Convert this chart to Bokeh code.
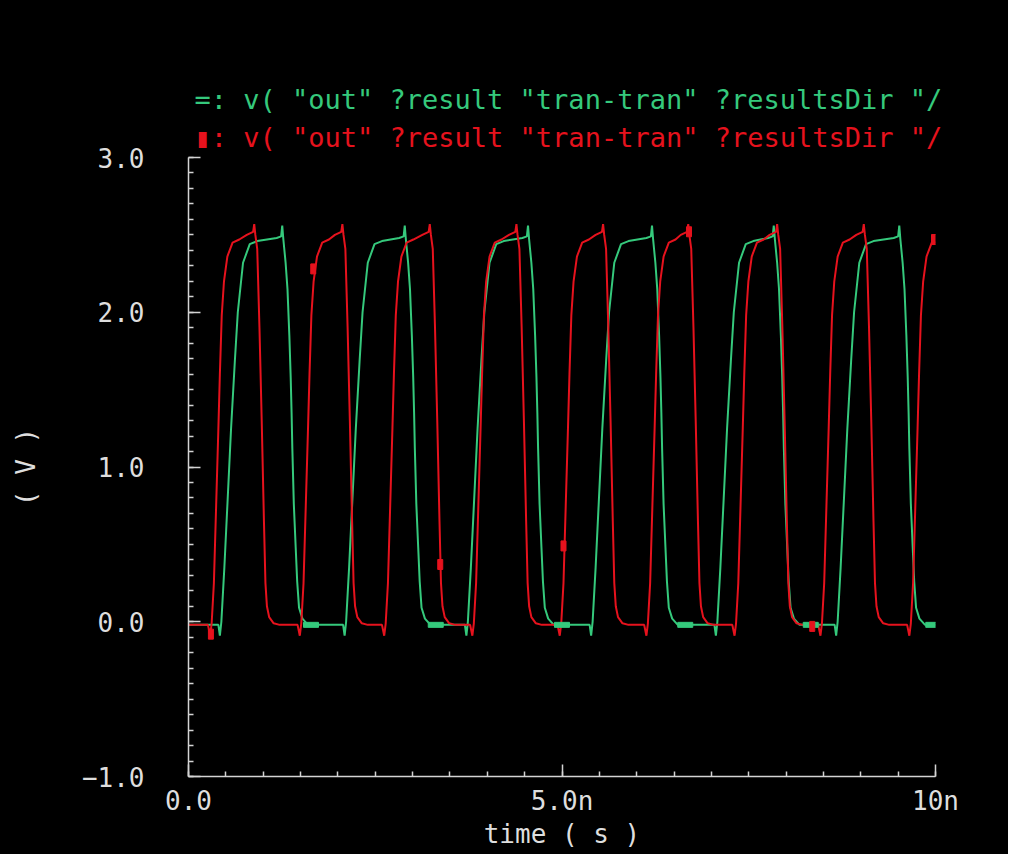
import numpy as np
from bokeh.plotting import figure
from bokeh.models import Range1d, FixedTicker, Title
from bokeh.embed import file_html
from bokeh.resources import INLINE

# ---- data (time in ns, voltage in V) ----
# mid-level (about 1.25 V) crossing times of each edge
RED_RISE_T = [0.40, 1.60, 2.73, 3.91, 5.08, 6.24, 7.42, 8.57, 9.76]
RED_FALL_T = [0.98, 2.16, 3.33, 4.49, 5.65, 6.79, 7.98, 9.14]
GREEN_RISE_T = [0.57, 2.24, 3.87, 5.54, 7.21, 8.82]
GREEN_FALL_T = [1.38, 3.02, 4.67, 6.33, 7.96, 9.64]

# edge shapes read around one edge of each kind (offset from mid crossing, volts)
RED_RISE_DT = [-0.14, -0.11, -0.09, -0.06, -0.03, 0.0, 0.02, 0.045, 0.075, 0.12, 0.19, 0.28]
RED_RISE_V = [-0.02, -0.09, -0.01, 0.25, 0.75, 1.25, 1.60, 1.98, 2.20, 2.36, 2.45, 2.47]
RED_FALL_DT = [-0.20, -0.115, -0.10, -0.085, -0.06, -0.03, 0.0, 0.03, 0.05, 0.07, 0.10, 0.16, 0.24]
RED_FALL_V = [2.50, 2.52, 2.57, 2.50, 2.41, 1.90, 1.30, 0.65, 0.25, 0.10, 0.03, -0.01, -0.02]
GREEN_RISE_DT = [-0.22, -0.17, -0.15, -0.13, -0.09, -0.05, 0.0, 0.05, 0.09, 0.16, 0.25, 0.35]
GREEN_RISE_V = [-0.02, -0.02, -0.09, 0.0, 0.35, 0.75, 1.25, 1.68, 2.00, 2.32, 2.44, 2.46]
GREEN_FALL_DT = [-0.20, -0.14, -0.125, -0.11, -0.08, -0.055, -0.03, -0.012, 0.0, 0.01, 0.03, 0.055, 0.075, 0.10, 0.145, 0.22]
GREEN_FALL_V = [2.48, 2.49, 2.56, 2.47, 2.32, 2.15, 1.85, 1.58, 1.35, 1.12, 0.76, 0.48, 0.26, 0.09, 0.02, -0.02]
START_V = -0.02

# trace identification markers
GREEN_MK_T = [1.64, 3.31, 5.00, 6.65, 8.33, 9.97]
GREEN_MK_V = [-0.02, -0.02, -0.02, -0.02, -0.02, -0.02]
RED_MK_T = [0.30, 1.67, 3.37, 5.02, 6.70, 8.35, 9.98]
RED_MK_V = [-0.08, 2.28, 0.37, 0.49, 2.52, -0.03, 2.47]

X_TICKS = [0, 5, 10]
X_LABELS = {0: "0.0", 5: "5.0n", 10: "10n"}
Y_TICKS = [-1, 0, 1, 2, 3]
Y_LABELS = {-1: "\u22121.0", 0: "0.0", 1: "1.0", 2: "2.0", 3: "3.0"}
LEGEND_TEXT = ': v( "out" ?result "tran-tran" ?resultsDir "/'

GREEN = "#35c97c"
RED = "#e6121d"
AXC = "#d4d4d4"
TXC = "#dedede"
FONT = "DejaVu Sans Mono"


def build(rises, falls, rdt, rv, fdt, fv, v0, t_end=10.0):
    edges = sorted([(t, 0) for t in rises] + [(t, 1) for t in falls])
    ts, vs = [0.0], [v0]
    for t, kind in edges:
        dts, vals = (rdt, rv) if kind == 0 else (fdt, fv)
        for d, v in zip(dts, vals):
            tt = t + d
            if 0.0 < tt < t_end:
                ts.append(tt)
                vs.append(v)
    ts.append(t_end)
    vs.append(vs[-1])
    return ts, vs


red_t, red_v = build(RED_RISE_T, RED_FALL_T, RED_RISE_DT, RED_RISE_V, RED_FALL_DT, RED_FALL_V, START_V)
grn_t, grn_v = build(GREEN_RISE_T, GREEN_FALL_T, GREEN_RISE_DT, GREEN_RISE_V, GREEN_FALL_DT, GREEN_FALL_V, START_V)

p = figure(width=1008, height=854,
           x_range=Range1d(0, 10), y_range=Range1d(-1, 3),
           output_backend="svg", toolbar_location=None,
           background_fill_color="black", border_fill_color="black",
           min_border_left=188, min_border_right=73,
           min_border_top=157, min_border_bottom=78)
p.outline_line_color = None
p.styles = {"background-color": "black"}
p.grid.visible = False

p.line(grn_t, grn_v, line_color=GREEN, line_width=2)
p.line(red_t, red_v, line_color=RED, line_width=2)

p.rect(GREEN_MK_T, GREEN_MK_V, width=15, height=5, width_units="screen",
       height_units="screen", fill_color=GREEN, line_color=GREEN)
p.rect(RED_MK_T, RED_MK_V, width=5, height=10, width_units="screen",
       height_units="screen", fill_color=RED, line_color=RED)

p.xaxis.ticker = FixedTicker(ticks=X_TICKS, minor_ticks=[0.5 * i for i in range(21)])
p.yaxis.ticker = FixedTicker(ticks=Y_TICKS, minor_ticks=[round(-1 + 0.1 * i, 2) for i in range(41)])
p.xaxis.major_label_overrides = X_LABELS
p.yaxis.major_label_overrides = Y_LABELS

for ax in (p.xaxis[0], p.yaxis[0]):
    ax.axis_line_color = AXC
    ax.axis_line_width = 1.5
    ax.major_tick_line_color = AXC
    ax.minor_tick_line_color = AXC
    ax.major_tick_line_width = 1.5
    ax.minor_tick_line_width = 1.5
    ax.major_tick_in = 12
    ax.major_tick_out = 0
    ax.minor_tick_in = 5
    ax.minor_tick_out = 0
    ax.major_label_text_color = TXC
    ax.major_label_text_font = FONT
    ax.major_label_text_font_size = "26px"
    ax.axis_label_text_color = TXC
    ax.axis_label_text_font = FONT
    ax.axis_label_text_font_size = "26px"
    ax.axis_label_text_font_style = "normal"

p.xaxis.axis_label = "time ( s )"
p.yaxis.axis_label = "( V )"
p.xaxis.major_label_standoff = 9
p.xaxis.axis_label_standoff = 0
p.yaxis.major_label_standoff = 44
p.yaxis.axis_label_standoff = 38

# legend rows (header of the waveform window); first added sits nearest the frame
p.add_layout(Title(text="\u25ae" + LEGEND_TEXT, text_color=RED, text_font=FONT,
                   text_font_size="27px", text_font_style="normal",
                   align="left", offset=6, standoff=10), "above")
p.add_layout(Title(text="=" + LEGEND_TEXT, text_color=GREEN, text_font=FONT,
                   text_font_size="27px", text_font_style="normal",
                   align="left", offset=6, standoff=0), "above")

open("out.html", "w").write(file_html(p, INLINE))
